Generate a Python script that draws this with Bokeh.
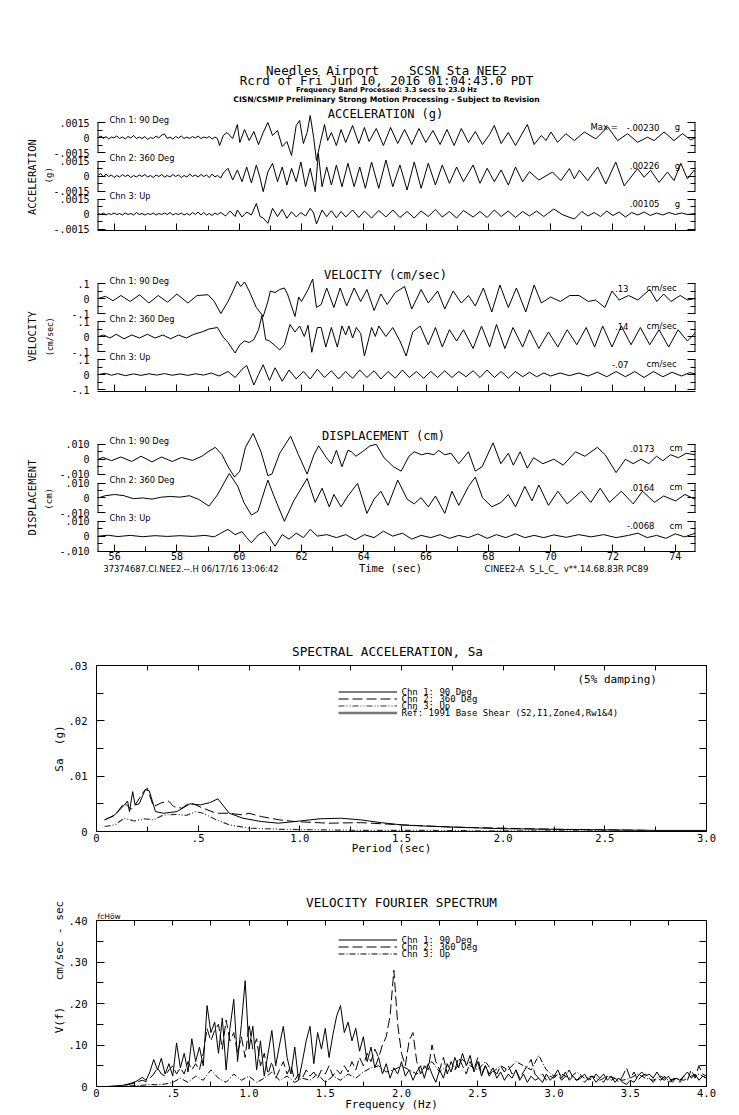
import numpy as np
from bokeh.plotting import figure
from bokeh.models import (Range1d, LinearAxis, FixedTicker, Label, Legend, LegendItem,
                          CustomJSTickFormatter, Title)
from bokeh.layouts import column
from bokeh.embed import file_html
from bokeh.resources import INLINE

MONO = "DejaVu Sans Mono"
SANS = "DejaVu Sans"
NB = "\u00a0"

# ------------------------------------------------------------------ data
CHANNELS = ["Chn 1: 90 Deg", "Chn 2: 360 Deg", "Chn 3: Up"]

# acceleration, units of 1e-4 g
pre_t = [55.48, 55.56, 55.64, 55.72, 55.81, 55.90, 55.98, 56.07, 56.16, 56.25,
         56.34, 56.43, 56.52, 56.61, 56.70, 56.79, 56.88, 56.97, 57.06, 57.15,
         57.24, 57.33, 57.42, 57.51, 57.60, 57.69, 57.78, 57.87, 57.96, 58.05,
         58.14, 58.23, 58.32, 58.41, 58.50, 58.59, 58.68, 58.77, 58.86, 58.95,
         59.04, 59.13, 59.22, 59.30]
acc1_t = pre_t + [59.37, 59.49, 59.61, 59.79, 59.94, 60.02, 60.17, 60.32, 60.47, 60.62,
                  60.77, 60.92, 61.07, 61.23, 61.38, 61.53, 61.68, 61.83, 61.94, 62.06,
                  62.18, 62.28, 62.39, 62.48, 62.60, 62.74, 62.84, 62.96, 63.12, 63.27,
                  63.42, 63.64, 63.84, 64.02, 64.17, 64.40, 64.63, 64.86, 65.09, 65.31,
                  65.54, 65.77, 65.99, 66.22, 66.45, 66.67, 66.90, 67.13, 67.36, 67.58,
                  67.81, 68.04, 68.19, 68.41, 68.64, 68.87, 69.05, 69.25, 69.47, 69.70,
                  69.85, 70.01, 70.22, 70.49, 70.76, 71.08, 71.45, 71.83, 72.15, 72.47,
                  72.79, 73.11, 73.32, 73.64, 73.96, 74.23, 74.50, 74.65]
acc1_v = [0, 1.5, -1, 1, -1.5, 0.5, -0.5, 1.5, -1, 0.5,
          -1.5, 1, -0.5, 2, -1, 0.5, -1, 1, -2, 0,
          -1, 1.5, -0.5, 2.5, 3.5, -1, 0.5, -1.5, 1, -0.5,
          1.5, -1, 0.5, -1, 1, -0.5, 1.5, -1, 0.5, -0.5,
          1, -1.5, 0.5, -1,
          -8, 2, 5, -1, 13, -5, 8, -3, 6, -7,
          5, 15, 2, 7, -9, -4, -18, 12, 17, -6,
          5, 22, 0, -23, -6, 13, -3, 5, -8, 8,
          -5, 12, -6, 10, -4, 9, -8, 10, -6, 8,
          -7, 9, -5, 7, -7, 8, -8, 9, -5, 6,
          -7, 3, 12, -6, 5, -8, 2, 13, -7, 2,
          -3, 5.5, -4.8, 3.8, -3.1, 5.5, -1.4, 10.7, -3.1, 3.8,
          -4.8, 0.3, -3.1, 5.5, -3.1, 3.8, -2.4, 0]
acc2_t = pre_t + [59.41, 59.49, 59.64, 59.79, 59.94, 60.09, 60.24, 60.39, 60.55, 60.67,
                  60.77, 60.92, 61.07, 61.23, 61.38, 61.53, 61.68, 61.83, 61.98, 62.13,
                  62.28, 62.44, 62.54, 62.66, 62.81, 62.96, 63.12, 63.30, 63.49, 63.69,
                  63.87, 64.05, 64.25, 64.48, 64.71, 64.93, 65.16, 65.39, 65.62, 65.84,
                  66.07, 66.30, 66.52, 66.75, 66.98, 67.20, 67.51, 67.73, 67.96, 68.19,
                  68.41, 68.64, 68.87, 69.10, 69.32, 69.62,
                  70.06, 70.33, 70.60, 70.76, 70.92, 71.19, 71.51, 71.77, 72.09, 72.36,
                  72.79, 73.00, 73.21, 73.48, 73.75, 73.96, 74.18, 74.39, 74.60, 74.65]
acc2_v = [1, 2.5, -1, 2, -0.5, 1, -1.5, 0.5, -1, 1.5,
          -0.5, 1, -1.5, 0.5, -1, 1, -0.5, 1.5, -1, 0.5,
          -1.5, 1, -0.5, 1.5, -1, 0.5, -1, 1.5, -0.5, 1,
          -1.5, 0.5, -1, 2, -0.5, 1, -1, 1.5, -0.5, 1,
          -1.5, 2, -1, 0.5,
          -2, 3, 7.7, -4, 6, -5.7, 9, -7, 11, -2,
          -15.7, 4, 12.7, -5.7, 9, -9, 7.7, -5.7, 14, -10.7,
          7.7, -15.7, 22.6, -10.7, 9, -9, 11, -10.7, 12.7, -10.7,
          9, -12.3, 14, -12.3, 16, -10.7, 11, -14, 14, -12.3,
          12.7, -9, 11, -7.3, 9, -5.7, 11, -7.3, 7.7, -5.7,
          6, -9, 9, -5.7, 4.3, -4,
          3.9, -4.6, 7.4, -2.9, 5.7, -4.6, 9, -8, 14, -9.8,
          7.4, -1.2, 5.7, -6.4, 3.9, -4.6, 12.6, -2.9, 5.7, 4]
acc3_t = pre_t + [59.41, 59.56, 59.71, 59.87, 59.94, 60.09, 60.24, 60.39, 60.55, 60.67,
                  60.77, 60.92, 61.07, 61.23, 61.38, 61.53, 61.68, 61.83, 61.98, 62.13,
                  62.28, 62.39, 62.48, 62.66, 62.81, 62.96, 63.12, 63.27, 63.42, 63.64,
                  63.84, 64.02, 64.25, 64.48, 64.71, 64.93, 65.16, 65.39, 65.62, 65.84,
                  66.07, 66.30, 66.52, 66.75, 66.98, 67.20, 67.51, 67.73, 67.96, 68.19,
                  68.41, 68.64, 68.87, 69.10, 69.32, 69.55, 69.78, 70.10, 70.40, 70.76,
                  71.00, 71.20, 71.40, 71.60, 71.80, 72.00, 72.20, 72.40, 72.60, 72.80,
                  73.00, 73.20, 73.40, 73.60, 73.80, 74.00, 74.20, 74.40, 74.65]
acc3_v = [0.5, -0.5, 1, -1, 0.5, -0.5, 1, -0.5, 0.5, -1,
          1, -0.5, 0.5, -1, 1.5, -0.5, 0.5, -1, 0.5, -0.5,
          1, -1, 0.5, -0.5, 1, -0.5, 1.5, -1, 0.5, -0.5,
          1, -1, 0.5, -1, 1.5, -0.5, 2, -1, 1.5, -1,
          0.5, -1.5, 1, -0.5,
          1.5, -2, 3, -2.5, 4, -3, 2, -1, 10.5, -2.5,
          -4, -9.3, 5.7, -2.5, 4.7, -4.3, 2.3, -3, 1.5, -2,
          5.7, 1, -10, 4, -2.7, 3.3, -3.7, 2.5, -3, 4,
          -3.5, 3, -4, 3.5, -3, 4, -3.5, 2.5, -4, 3,
          -2.5, 4.5, -3, 2.5, -4, 3.5, -3, 2.5, -3.5, 4,
          -2.5, 3, -3.5, 2.5, -2, 3, -2.5, 5, -1, -5,
          2.5, -2, 1.5, -2.5, 3, -1.5, 2, -3, 1.5, -1,
          2, -1.5, 1, -1, 1.5, -0.5, 1, -0.5, 0.5]

# velocity, cm/sec
vel1_t = [55.48, 55.70, 55.95, 56.20, 56.50, 56.80, 57.10, 57.40, 57.70, 58.00,
          58.35, 58.65, 59.00, 59.20, 59.41, 59.64, 59.80, 59.94, 60.05, 60.17,
          60.32, 60.55, 60.77, 60.92, 61.00, 61.15, 61.30, 61.45, 61.55, 61.79,
          61.91, 62.00, 62.21, 62.36, 62.48, 62.63, 62.81, 63.04, 63.24, 63.45,
          63.69, 63.90, 64.10, 64.33, 64.55, 64.75, 65.01, 65.31, 65.54, 65.84,
          66.07, 66.37, 66.60, 66.87, 67.13, 67.36, 67.58, 67.84, 68.11, 68.37,
          68.64, 68.90, 69.20, 69.47, 69.70, 70.00, 70.31, 70.61, 70.91, 71.21,
          71.44, 71.74, 71.97, 72.20, 72.50, 72.80, 73.18, 73.41, 73.63, 73.86,
          74.16, 74.39, 74.65]
vel1_v = [0, 0.015, -0.015, 0.02, -0.02, 0.025, -0.03, 0.02, -0.025, 0.03,
          -0.03, 0.02, 0.025, -0.02, -0.10, -0.02, 0.05, 0.115, 0.08, 0.11,
          0.05, -0.06, -0.12, -0.02, 0.05, 0.04, 0.06, 0.07, 0.03, -0.12,
          0.01, -0.02, 0.06, 0.13, -0.06, -0.04, 0.07, -0.06, 0.07, -0.05,
          0.07, -0.02, 0.06, -0.08, 0.03, -0.04, 0.04, 0.08, -0.07, 0.06,
          -0.03, 0.05, -0.07, 0.05, -0.03, 0.02, -0.05, 0.07, -0.09, 0.09,
          -0.06, 0.07, -0.09, 0.09, -0.03, 0.01, -0.02, 0.02, 0.02, -0.02,
          -0.01, -0.06, 0.05, -0.01, 0.02, -0.01, 0.06, -0.02, 0.03, -0.02,
          0.02, -0.01, 0]
vel2_t = [55.48, 55.65, 55.85, 56.05, 56.30, 56.55, 56.80, 57.05, 57.30, 57.55,
          57.80, 58.05, 58.30, 58.55, 58.80, 59.03, 59.30, 59.49, 59.64, 59.87,
          60.02, 60.17, 60.32, 60.47, 60.62, 60.73, 60.85, 60.97, 61.12, 61.30,
          61.45, 61.63, 61.79, 61.94, 62.09, 62.21, 62.33, 62.51, 62.63, 62.78,
          62.96, 63.15, 63.30, 63.42, 63.52, 63.64, 63.76, 63.90, 64.02, 64.25,
          64.37, 64.48, 64.71, 64.93, 65.16, 65.36, 65.57, 65.81, 66.07, 66.30,
          66.52, 66.75, 66.98, 67.20, 67.51, 67.78, 68.04, 68.26, 68.53, 68.79,
          69.10, 69.32, 69.62, 69.93, 70.23, 70.53, 70.84, 71.14, 71.41, 71.67,
          71.97, 72.27, 72.58, 72.88, 73.18, 73.48, 73.79, 74.09, 74.39, 74.65]
vel2_v = [0, 0.01, -0.01, 0.015, -0.015, 0.01, -0.01, 0.015, -0.01, 0.01,
          -0.015, 0.01, -0.01, 0.015, 0.03, 0.05, 0.06, -0.005, -0.04, -0.11,
          -0.055, -0.03, -0.04, -0.02, 0.045, 0.14, -0.02, -0.03, -0.055, -0.09,
          -0.055, 0.08, 0.03, 0.07, 0.0, 0.075, -0.105, 0.06, 0.06, -0.07,
          0.06, -0.07, 0.07, 0.01, 0.07, -0.01, 0.06, 0.02, -0.13, 0.06,
          0.0, 0.07, 0.0, 0.06, -0.03, -0.13, 0.03, 0.07, -0.055, 0.06,
          -0.07, 0.045, -0.03, 0.045, -0.08, 0.07, -0.07, 0.08, -0.08, 0.06,
          -0.07, 0.045, -0.08, 0.03, -0.07, 0.045, -0.055, 0.06, -0.07, 0.07,
          -0.07, 0.07, -0.055, 0.06, -0.055, 0.045, -0.07, 0.045, -0.03, 0.025]
vel3_t = [55.48, 55.70, 55.90, 56.10, 56.35, 56.60, 56.85, 57.10, 57.35, 57.60,
          57.85, 58.10, 58.35, 58.60, 58.85, 59.10, 59.35, 59.64, 59.87, 60.09,
          60.24, 60.47, 60.62, 60.77, 60.97, 61.15, 61.38, 61.60, 61.83, 62.06,
          62.28, 62.51, 62.74, 62.96, 63.19, 63.42, 63.64, 63.87, 64.10, 64.33,
          64.55, 64.78, 65.01, 65.24, 65.46, 65.69, 65.92, 66.15, 66.37, 66.60,
          66.83, 67.05, 67.28, 67.51, 67.73, 67.96, 68.19, 68.41, 68.64, 68.87,
          69.10, 69.32, 69.55, 69.78, 70.00, 70.30, 70.60, 70.90, 71.20, 71.50,
          71.80, 72.10, 72.40, 72.70, 73.00, 73.30, 73.60, 73.90, 74.20, 74.45,
          74.65]
vel3_v = [0, 0.008, -0.005, 0.006, -0.008, 0.004, -0.006, 0.005, -0.004, 0.006,
          -0.005, 0.004, -0.006, 0.005, -0.004, 0.01, -0.01, 0.02, -0.02, 0.035,
          0.06, -0.07, 0.0, 0.065, -0.04, 0.045, -0.045, 0.03, -0.03, 0.02,
          -0.03, 0.035, -0.02, 0.025, -0.03, 0.02, -0.025, 0.03, -0.02, 0.025,
          -0.03, 0.02, -0.025, 0.03, -0.02, 0.02, -0.025, 0.02, -0.02, 0.025,
          -0.02, 0.02, -0.015, 0.025, -0.02, 0.03, -0.02, 0.02, -0.025, 0.02,
          -0.015, 0.015, -0.015, 0.01, -0.01, 0.01, -0.008, 0.01, -0.01, 0.015,
          -0.015, 0.02, -0.015, 0.02, -0.02, 0.02, -0.015, 0.015, -0.01, 0.012,
          0.005]

# displacement, units of 1e-3 cm
dis1_t = [55.48, 55.63, 55.90, 56.20, 56.55, 56.85, 57.20, 57.50, 57.85, 58.15,
          58.50, 58.80, 59.00, 59.23, 59.45, 59.64, 59.85, 60.02, 60.20, 60.45,
          60.70, 60.92, 61.05, 61.30, 61.65, 61.90, 62.18, 62.40, 62.55, 62.80,
          62.96, 63.12, 63.30, 63.49, 63.60, 63.75, 63.95, 64.20, 64.40, 64.65,
          64.95, 65.20, 65.45, 65.62, 65.85, 66.05, 66.25, 66.40, 66.60, 66.80,
          67.05, 67.36, 67.58, 67.80, 68.15, 68.40, 68.64, 68.80, 69.02, 69.25,
          69.45, 69.75, 70.10, 70.40, 70.80, 71.10, 71.50, 71.75, 72.10, 72.40,
          72.65, 72.90, 73.15, 73.40, 73.60, 73.85, 74.10, 74.35, 74.65]
dis1_v = [0, 1.2, -1, 1.5, -1.5, 2, -1.8, 1.5, -1.5, 1.2,
          -0.8, 2, 5, 8, 3, -5, -12, -8, 8, 17.3,
          5, -11, -10, 4, 15.5, 3, -10, 3, 9, 1,
          -3, 6, -5, 6, 5, 2, 5, 9, 10, 1,
          -5, -8, 2, 5, 3, 4, 3, 6, 3, 4,
          -3, 5, -8, -5, 11, -3, 4, -4, 5, -6,
          1, -3, 0, -4, 5, 2, 8, 3, -9, 0,
          -3, 0, -3, 2, -1, 3, 1, 4, 3]
dis2_t = [55.48, 55.70, 56.00, 56.30, 56.60, 56.90, 57.20, 57.50, 57.80, 58.10,
          58.40, 58.70, 59.03, 59.30, 59.68, 59.95, 60.15, 60.39, 60.60, 60.92,
          61.10, 61.45, 61.75, 62.18, 62.44, 62.66, 62.89, 63.04, 63.27, 63.49,
          63.80, 64.10, 64.33, 64.55, 64.78, 65.09, 65.39, 65.62, 65.84, 66.07,
          66.30, 66.60, 66.83, 67.05, 67.36, 67.58, 67.81, 68.11, 68.41, 68.64,
          68.87, 69.17, 69.40, 69.62, 69.93, 70.23, 70.53, 70.99, 71.29, 71.59,
          71.89, 72.27, 72.65, 72.95, 73.33, 73.63, 74.01, 74.31, 74.65]
dis2_v = [0, 1.5, 2.3, 1.5, -0.5, 0, -0.8, 0.5, 1, 0.5,
          1.5, -1, -5.5, 2, 16.4, 8, -3, -11.5, -9, 12,
          2, -15.7, -2, 13, -3, 6.5, -6, 2.3, -6, 1.3,
          9.8, -10.4, -0.8, 4.5, -5, 12, -0.8, -4, 0.2, -6,
          1.3, -10.4, 4.5, -5, 7.7, 14, 0.2, -6, -3, 2.3,
          -6, 7.7, -2, 8.7, -5, 4.5, -4, 4.5, -3, 6.5,
          -3, 4.5, -4, 4.5, -3, 1.3, -2, 2.3, -1]
dis3_t = [55.48, 55.80, 56.10, 56.50, 56.90, 57.30, 57.70, 58.10, 58.50, 58.90,
          59.20, 59.41, 59.64, 59.87, 60.09, 60.24, 60.39, 60.62, 60.82, 61.00,
          61.15, 61.38, 61.60, 61.83, 62.06, 62.28, 62.51, 62.81, 63.12, 63.42,
          63.72, 64.02, 64.33, 64.63, 64.93, 65.24, 65.54, 65.84, 66.15, 66.45,
          66.75, 67.05, 67.36, 67.66, 67.96, 68.26, 68.56, 68.87, 69.17, 69.47,
          69.78, 70.10, 70.50, 70.90, 71.30, 71.70, 72.10, 72.50, 72.80, 73.10,
          73.40, 73.70, 74.00, 74.30, 74.65]
dis3_v = [0, 0.6, -0.3, 0.5, -0.4, 0.3, -0.2, 0.3, -0.2, 0.5,
          -0.5, 2, 4.5, 1, 3, -1, -4.5, 1, 3, -2,
          -6.8, 1, -2, 2, -1, 4.5, 0, 1, -1, 1,
          -2.5, 1, -1, 3.3, 0, 2, -2, 0.5, -1, 1,
          -1.5, 0.5, -1, 1.5, -1.5, 1, -1, 1.5, -1, 0.5,
          -1, 0.8, -0.8, 1, -0.5, 1, -1, 0.5, 2, -1,
          0.5, -1.5, 1.5, -0.5, 2]

acc_max = ["-.00230", ".00226", ".00105"]
vel_max = [".13", ".14", "-.07"]
dis_max = [".0173", ".0164", "-.0068"]
time_ticks = [56, 58, 60, 62, 64, 66, 68, 70, 72, 74]
time_minor = [55, 57, 59, 61, 63, 65, 67, 69, 71, 73, 75]

# spectral acceleration (g) vs period (sec)
sa1_T = [0.04, 0.09, 0.137, 0.153, 0.162, 0.178, 0.19, 0.21, 0.24, 0.26,
         0.29, 0.33, 0.395, 0.46, 0.51, 0.556, 0.597, 0.653, 0.72, 0.81,
         0.895, 0.976, 1.10, 1.20, 1.30, 1.40, 1.50, 1.60, 1.75, 2.00,
         2.25, 2.50, 2.75, 3.00]
sa1_v = [0.0021, 0.0030, 0.0048, 0.0055, 0.0036, 0.0072, 0.0048, 0.0050, 0.0076, 0.0073,
         0.0036, 0.0033, 0.0036, 0.0050, 0.0048, 0.0052, 0.0059, 0.0033, 0.0024, 0.0018,
         0.0015, 0.0018, 0.0023, 0.0024, 0.0021, 0.0016, 0.0012, 0.0010, 0.0008, 0.0005,
         0.0004, 0.0003, 0.0002, 0.0002]
sa2_T = [0.04, 0.09, 0.137, 0.17, 0.19, 0.234, 0.25, 0.28, 0.32, 0.355,
         0.38, 0.42, 0.45, 0.476, 0.524, 0.59, 0.65, 0.72, 0.75, 0.81,
         0.90, 0.976, 1.14, 1.30, 1.50, 1.75, 2.00, 2.25, 2.50, 2.72]
sa2_v = [0.0021, 0.0029, 0.0052, 0.0040, 0.0048, 0.0073, 0.0078, 0.0045, 0.0052, 0.0055,
         0.0045, 0.0042, 0.0050, 0.0050, 0.0042, 0.0033, 0.0033, 0.0030, 0.0033, 0.0027,
         0.0021, 0.0018, 0.0015, 0.0016, 0.0012, 0.0008, 0.0006, 0.0004, 0.0003, 0.0002]
sa3_T = [0.04, 0.09, 0.137, 0.186, 0.234, 0.28, 0.33, 0.395, 0.44, 0.49,
         0.524, 0.59, 0.653, 0.75, 0.90, 1.10, 1.30, 1.60, 2.00, 2.40, 2.72]
sa3_v = [0.0009, 0.0012, 0.0024, 0.0019, 0.0023, 0.0021, 0.0030, 0.0031, 0.0029, 0.0036,
         0.0033, 0.0021, 0.0012, 0.0006, 0.0004, 0.0003, 0.0002, 0.0002, 0.0001, 0.0001, 0.0001]
# reference design spectrum: entirely above the .03 g top of the axis (off scale)
ref_T = [0.0, 0.2, 0.4, 0.6, 0.8, 1.0, 1.5, 2.0, 2.5, 3.0]
ref_v = [0.275, 0.275, 0.275, 0.275, 0.186, 0.150, 0.115, 0.095, 0.081, 0.072]
sa_labels = ["Chn 1: 90 Deg", "Chn 2: 360 Deg", "Chn 3: Up",
             "Ref: 1991 Base Shear (S2,I1,Zone4,Rw1&4)"]

# velocity Fourier spectrum, units of 0.01 cm/sec-sec
vfs_step12 = 0.025
vfs1 = [0, 0, 0, 0, 0.1, 0.1, 0.2, 0.3, 0.5, 0.8,
        1.0, 1.6, 2.2, 1.5, 3.5, 6.5, 4.0, 6.8, 3.0, 5.5,
        2.5, 10.5, 4.5, 8.0, 3.5, 11.5, 6.0, 9.5, 5.0, 19.5,
        13.0, 15.5, 8.0, 16.5, 4.0, 14.0, 21.0, 6.0, 15.0, 25.5,
        9.0, 14.5, 4.0, 11.0, 2.5, 8.0, 13.5, 5.0, 10.0, 14.5,
        7.0, 3.0, 9.5, 1.5, 6.0, 11.0, 14.5, 5.5, 13.0, 9.0,
        14.0, 7.0, 12.5, 17.0, 19.5, 13.0, 15.5, 11.0, 14.0, 8.5,
        12.0, 6.0, 9.5, 4.5, 7.0, 3.0, 5.5, 2.0, 4.5, 3.0,
        6.0, 2.5, 4.0, 1.5, 3.5, 5.0, 2.0, 5.5, 3.0, 1.0,
        4.0, 2.0, 5.5, 3.5, 7.0, 4.5, 8.0, 5.0, 7.5, 3.5,
        6.0, 2.5, 5.0, 3.0, 4.5, 2.0, 3.5, 1.5, 3.0, 2.0,
        4.0, 1.5, 3.0, 1.0, 2.5, 1.5, 2.0, 1.0, 3.0, 1.5,
        2.5, 4.0, 2.0, 3.5, 1.5, 2.5, 1.5, 2.0, 3.0, 1.5,
        2.5, 1.0, 2.0, 3.0, 1.5, 2.5, 1.0, 2.0, 1.0, 0.5,
        1.5, 1.0, 2.5, 3.5, 2.5, 3.0, 2.0, 3.5, 2.0, 1.5,
        2.5, 1.0, 2.0, 1.5, 2.5, 3.5, 2.0, 3.0, 1.5, 2.5,
        2.0]
vfs2 = [0, 0, 0, 0, 0, 0.1, 0.2, 0.3, 0.4, 0.6,
        0.8, 1.2, 1.5, 1.2, 2.0, 3.0, 4.5, 3.0, 2.5, 4.0,
        5.0, 3.0, 4.5, 3.0, 6.0, 4.0, 5.5, 4.0, 8.0, 14.0,
        11.0, 13.5, 15.0, 9.0, 16.0, 11.0, 13.0, 8.0, 12.0, 7.0,
        15.0, 9.0, 11.5, 5.0, 8.0, 3.0, 6.0, 2.0, 4.0, 6.0,
        3.0, 5.0, 1.5, 3.0, 2.0, 4.0, 2.5, 3.5, 2.0, 4.0,
        3.0, 5.0, 2.5, 4.0, 3.0, 5.0, 3.5, 6.0, 4.0, 7.0,
        5.0, 8.0, 6.0, 9.0, 7.0, 10.0, 12.0, 17.0, 28.0, 15.0,
        8.0, 5.0, 11.0, 13.0, 6.0, 3.0, 5.0, 4.0, 10.0, 6.0,
        4.0, 7.0, 3.0, 6.0, 4.0, 7.0, 5.0, 3.0, 6.0, 4.0,
        7.0, 3.0, 5.0, 2.5, 4.0, 3.0, 5.0, 3.5, 5.0, 3.0,
        4.0, 2.0, 3.5, 5.0, 6.5, 3.0, 2.0, 3.0, 1.5, 2.5,
        2.0, 3.0, 1.5, 2.5, 4.0, 2.0, 1.5, 2.5, 1.0, 2.0,
        1.5, 3.0, 2.0, 1.0, 2.5, 1.5, 2.0, 1.0, 2.5, 4.5,
        2.0, 3.5, 1.5, 2.5, 3.0, 2.0, 1.0, 2.0, 1.5, 2.5,
        1.0, 1.5, 2.0, 1.0, 2.5, 1.5, 4.0, 2.0, 5.0, 3.0,
        2.5]
vfs_step3 = 0.05
vfs3 = [0, 0, 0, 0, 0.1, 0.2, 0.3, 0.5, 0.4, 0.6,
        1.0, 2.0, 1.0, 2.5, 1.5, 4.0, 2.0, 1.0, 3.0, 1.5,
        2.5, 1.0, 2.0, 3.5, 1.5, 2.5, 1.0, 2.0, 1.5, 3.0,
        1.0, 2.5, 1.5, 3.0, 2.0, 3.5, 4.5, 5.0, 3.5, 4.0,
        5.0, 4.0, 3.0, 4.5, 6.0, 3.5, 5.0, 4.0, 6.5, 5.0,
        4.0, 6.0, 3.5, 5.0, 4.0, 6.0, 5.0, 4.0, 7.5, 4.0,
        2.5, 3.0, 2.0, 3.5, 2.0, 2.5, 1.5, 2.5, 2.0, 1.5,
        2.0, 3.0, 2.0, 1.5, 2.5, 1.5, 2.0, 1.5, 2.5, 3.0,
        2.0]
vfs_labels = ["Chn 1: 90 Deg", "Chn 2: 360 Deg", "Chn 3: Up"]

# ------------------------------------------------------------------ helpers
W = 739
T_START, T_END = 55.45, 74.65
FL, FR = 97, 695


def lookup_fmt(pos, labs):
    return CustomJSTickFormatter(args=dict(pos=list(pos), labs=list(labs)), code="""
        for (let i = 0; i < pos.length; i++) {
            if (Math.abs(pos[i] - tick) <= 1e-9 + 1e-6 * Math.abs(pos[i])) { return labs[i]; }
        }
        return "";
    """)


def blank_fmt():
    return CustomJSTickFormatter(code='return "";')


def lab(p, fl, fb, px, py, text, size, font=MONO, align="left", style="normal", angle=0.0):
    p.add_layout(Label(x=px - fl, y=fb - py, x_units="screen", y_units="screen", text=text,
                       text_font=font, text_font_size=f"{size}px", text_font_style=style,
                       text_align=align, text_baseline="middle", angle=angle,
                       text_color="black"))


def style_axis(ax, tin=8, tminor=4, size="10px", standoff=8, line=True, labels=True):
    ax.major_tick_in = tin
    ax.major_tick_out = 0
    ax.minor_tick_in = tminor
    ax.minor_tick_out = 0
    ax.major_tick_line_color = "black"
    ax.minor_tick_line_color = "black"
    ax.axis_line_color = "black" if line else None
    ax.major_label_text_font = MONO
    ax.major_label_text_color = "black"
    if labels:
        ax.major_label_text_font_size = size
        ax.major_label_standoff = standoff
    else:
        ax.formatter = blank_fmt()
        ax.major_label_text_font_size = "0px"
        ax.major_label_text_color = None
        ax.major_label_standoff = 0


def axis_title(ax, text, size, standoff):
    ax.axis_label = text
    ax.axis_label_text_font = MONO
    ax.axis_label_text_font_size = f"{size}px"
    ax.axis_label_text_font_style = "normal"
    ax.axis_label_text_color = "black"
    ax.axis_label_standoff = standoff


def seis_fig(top, height, ftop, fbot, zeros, half, lim, traces, unit, tick_top, tick_bot,
             show_xlabels, unit_label, unit_size, unit_standoff, group_label, group_standoff):
    p = figure(width=W, height=height, output_backend="svg", toolbar_location=None, title=None,
               x_range=Range1d(T_START, T_END), y_range=Range1d(fbot, ftop),
               min_border_left=FL, min_border_right=W - FR,
               min_border_top=ftop - top, min_border_bottom=top + height - fbot)
    p.outline_line_color = None
    p.xgrid.visible = False
    p.ygrid.visible = False
    majors, labs, minors = [], [], []
    k = half / lim
    for i, (z, (tt, vv)) in enumerate(zip(zeros, traces)):
        name = f"tr{i}"
        p.extra_y_ranges[name] = Range1d(-(fbot - z) / k, (z - ftop) / k)
        p.line(tt, np.array(vv, dtype=float) * unit, y_range_name=name,
               line_color="black", line_width=1)
        p.segment(x0=[T_START, T_END], y0=[-lim, -lim], x1=[T_START, T_END], y1=[lim, lim],
                  y_range_name=name, line_color="black", line_width=2)
        majors += [z - half, z, z + half]
        labs += [tick_top, "0", tick_bot]
        minors += [z - half / 2, z + half / 2]
    yt = FixedTicker(ticks=majors, minor_ticks=minors)
    ya = p.yaxis[0]
    ya.ticker = yt
    ya.formatter = lookup_fmt(majors, labs)
    style_axis(ya, tin=8, tminor=5, size="10px", standoff=8, line=False)
    axis_title(ya, unit_label, unit_size, unit_standoff)
    ga = LinearAxis(ticker=FixedTicker(ticks=[]))
    style_axis(ga, tin=0, tminor=0, line=False, labels=False)
    axis_title(ga, group_label, 10.5, group_standoff)
    p.add_layout(ga, "left")
    ra = LinearAxis(ticker=yt)
    style_axis(ra, tin=8, tminor=5, line=False, labels=False)
    p.add_layout(ra, "right")
    xa = p.xaxis[0]
    xa.ticker = FixedTicker(ticks=time_ticks, minor_ticks=time_minor)
    style_axis(xa, tin=7, tminor=5, size="10px", standoff=0, line=True, labels=show_xlabels)
    return p


def add_trace_texts(p, fb, zeros, half, maxvals, val_right, unit_text, unit_x, unit_align,
                    with_max=False):
    for i, z in enumerate(zeros):
        box_top = z - half
        lab(p, FL, fb, 109, box_top - 3, CHANNELS[i], 8.3, font=SANS)
        lab(p, FL, fb, val_right, box_top + 4.5, maxvals[i], 8.5, font=SANS, align="right")
        lab(p, FL, fb, unit_x, box_top + 4.5, unit_text, 8.5, font=SANS, align=unit_align)
        if with_max and i == 0:
            lab(p, FL, fb, 590, box_top + 4.5, "Max =", 8.5, font=SANS)


def text_strip(height, fl, fr):
    p = figure(width=W, height=height, output_backend="svg", toolbar_location=None, title=None,
               x_range=Range1d(fl, fr), y_range=Range1d(height, 0),
               min_border_left=fl, min_border_right=W - fr, min_border_top=0,
               min_border_bottom=0, x_axis_type=None, y_axis_type=None)
    p.outline_line_color = None
    p.grid.visible = False
    return p


def slab(p, top, px, py, text, size, font=MONO, align="left", style="normal"):
    p.add_layout(Label(x=px, y=py - top, text=text, text_font=font,
                       text_font_size=f"{size}px", text_font_style=style, text_align=align,
                       text_baseline="middle", text_color="black"))


# ------------------------------------------------------------------ acceleration
A_top, A_h, A_ft, A_fb = 0, 250, 60, 230
A_z = [137, 175.5, 213.5]
pA = seis_fig(A_top, A_h, A_ft, A_fb, A_z, 15, 0.0015,
              [(acc1_t, acc1_v), (acc2_t, acc2_v), (acc3_t, acc3_v)], 1e-4,
              ".0015", "-.0015", False, "(g)" + NB * 11, 9, -4,
              "ACCELERATION" + NB * 10, 4)
lab(pA, FL, A_fb, 386, 70, "Needles Airport" + NB * 4 + "SCSN Sta NEE2", 12.5, align="center")
lab(pA, FL, A_fb, 386, 80, "Rcrd of Fri Jun 10, 2016 01:04:43.0 PDT", 12.5, align="center")
lab(pA, FL, A_fb, 386, 89.5, "Frequency Band Processed: 3.3 secs to 23.0 Hz", 6.8, font=SANS,
    align="center", style="bold")
lab(pA, FL, A_fb, 386, 98.5,
    "CISN/CSMIP Preliminary Strong Motion Processing - Subject to Revision", 7.6, font=SANS,
    align="center", style="bold")
lab(pA, FL, A_fb, 385, 113, "ACCELERATION (g)", 12, align="center")
add_trace_texts(pA, A_fb, A_z, 15, acc_max, 659, "g", 677, "center", with_max=True)

# ------------------------------------------------------------------ velocity
B_top, B_h, B_ft, B_fb = 250, 162, 262, 391
B_z = [298, 336, 374]
pB = seis_fig(B_top, B_h, B_ft, B_fb, B_z, 15, 0.1,
              [(vel1_t, vel1_v), (vel2_t, vel2_v), (vel3_t, vel3_v)], 1.0,
              ".1", "-.1", False, "(cm/sec)" + NB * 4, 8, 13, "VELOCITY" + NB * 3, 6)
lab(pB, FL, B_fb, 385, 274, "VELOCITY (cm/sec)", 12, align="center")
add_trace_texts(pB, B_fb, B_z, 15, vel_max, 628, "cm/sec", 646, "left")

# ------------------------------------------------------------------ displacement
C_top, C_h, C_ft, C_fb = 412, 150, 424, 552
C_z = [459, 498, 536.5]
pC = seis_fig(C_top, C_h, C_ft, C_fb, C_z, 15, 0.010,
              [(dis1_t, dis1_v), (dis2_t, dis2_v), (dis3_t, dis3_v)], 1e-3,
              ".010", "-.010", True, "(cm)" + NB * 4, 9, 2, "DISPLACEMENT" + NB * 3, 4)
lab(pC, FL, C_fb, 383, 436, "DISPLACEMENT (cm)", 12, align="center")
add_trace_texts(pC, C_fb, C_z, 15, dis_max, 654, "cm", 669, "left")

# ------------------------------------------------------------------ strip between
S1_top, S1_h = 562, 98
s1 = text_strip(S1_h, FL, FR)
slab(s1, S1_top, 390, 567, "Time (sec)", 10.5, align="center")
slab(s1, S1_top, 103, 568, "37374687.CI.NEE2.--.H 06/17/16 13:06:42", 8.3, font=SANS)
slab(s1, S1_top, 484, 568, "CINEE2-A" + NB * 2 + "S_L_C_" + NB * 2 + "v**.14.68.83R PC89",
     8.5, font=SANS)
slab(s1, S1_top, 387, 651, "SPECTRAL ACCELERATION, Sa", 12.7, align="center")


# ------------------------------------------------------------------ spectra helpers
def spec_fig(height, mtop, mbot, fl, fr, xr, yr, xt, xminor, xlabs, yt, yminor, ylabs,
             xtitle, xtitle_standoff, ytitle):
    p = figure(width=W, height=height, output_backend="svg", toolbar_location=None, title=None,
               x_range=Range1d(*xr), y_range=Range1d(*yr),
               min_border_left=fl, min_border_right=W - fr,
               min_border_top=mtop, min_border_bottom=mbot)
    p.outline_line_color = None
    p.xgrid.visible = False
    p.ygrid.visible = False
    xtk = FixedTicker(ticks=xt, minor_ticks=xminor)
    ytk = FixedTicker(ticks=yt, minor_ticks=yminor)
    xa = p.xaxis[0]
    xa.ticker = xtk
    xa.formatter = lookup_fmt(xt, xlabs)
    style_axis(xa, tin=6, tminor=5, size="10.5px", standoff=2)
    axis_title(xa, xtitle, 11, xtitle_standoff)
    ya = p.yaxis[0]
    ya.ticker = ytk
    ya.formatter = lookup_fmt(yt, ylabs)
    style_axis(ya, tin=8, tminor=7, size="10.5px", standoff=9)
    axis_title(ya, ytitle, 11, 0)
    ta = LinearAxis(ticker=xtk)
    style_axis(ta, tin=5, tminor=5, labels=False)
    p.add_layout(ta, "above")
    ra = LinearAxis(ticker=ytk)
    style_axis(ra, tin=8, tminor=7, labels=False)
    p.add_layout(ra, "right")
    return p


def legend_block(p, renderers, fl, fb, rows_y, x0):
    items = [LegendItem(label=" ", renderers=[r]) for r in renderers]
    row_h = rows_y[1] - rows_y[0]
    bottom = rows_y[-1] + row_h / 2
    leg = Legend(items=items, location=(x0 - fl, fb - bottom), orientation="vertical",
                 padding=0, margin=0, spacing=0, glyph_width=59, glyph_height=int(row_h),
                 label_height=int(row_h), label_width=1, label_standoff=0,
                 label_text_font_size="1px", border_line_color=None,
                 background_fill_alpha=0)
    p.add_layout(leg)


# ------------------------------------------------------------------ spectral acceleration
D_top, D_h, D_ft, D_fb = 660, 198, 665, 831
D_fl, D_fr = 96, 707
pD = spec_fig(D_h, D_ft - D_top, D_top + D_h - D_fb, D_fl, D_fr, (0, 3.0), (0, 0.03),
              [0, 0.5, 1.0, 1.5, 2.0, 2.5, 3.0], [0.25, 0.75, 1.25, 1.75, 2.25, 2.75],
              ["0", ".5", "1.0", "1.5", "2.0", "2.5", "3.0"],
              [0, 0.01, 0.02, 0.03], [0.005, 0.015, 0.025], ["0", ".01", ".02", ".03"],
              "Period (sec)" + NB * 3, -3, "Sa" + NB * 2 + "(g)")
r1 = pD.line(sa1_T, sa1_v, line_color="black", line_width=1)
r2 = pD.line(sa2_T, sa2_v, line_color="black", line_width=1, line_dash="10 4")
r3 = pD.line(sa3_T, sa3_v, line_color="#333333", line_width=1.2, line_dash="6 2 1 2 1 2")
r4 = pD.line(ref_T, ref_v, line_color="#777777", line_width=2.5)
sa_rows = [691, 698, 705, 712]
legend_block(pD, [r1, r2, r3, r4], D_fl, D_fb, sa_rows, 338)
for yy, tx in zip(sa_rows, sa_labels):
    lab(pD, D_fl, D_fb, 401, yy, tx, 9)
lab(pD, D_fl, D_fb, 577, 679, "(5% damping)", 11)

# ------------------------------------------------------------------ velocity Fourier spectrum
E_top, E_h, E_ft, E_fb = 858, 257, 920, 1086
E_fl, E_fr = 96, 706
pE = spec_fig(E_h, E_ft - E_top, E_top + E_h - E_fb, E_fl, E_fr, (0, 4.0), (0, 0.40),
              [0, 0.5, 1.0, 1.5, 2.0, 2.5, 3.0, 3.5, 4.0],
              [0.25, 0.75, 1.25, 1.75, 2.25, 2.75, 3.25, 3.75],
              ["0", ".5", "1.0", "1.5", "2.0", "2.5", "3.0", "3.5", "4.0"],
              [0, 0.10, 0.20, 0.30, 0.40], [0.05, 0.15, 0.25, 0.35],
              ["0", ".10", ".20", ".30", ".40"],
              "Frequency (Hz)" + NB * 3, -2, NB * 11 + "V(f)" + NB * 4 + "cm/sec - sec")
pE.add_layout(Title(text="fcH\u00f6w", align="left", offset=1, text_font=SANS,
                    text_font_size="7.5px", text_font_style="normal", standoff=0,
                    text_color="black"), "above")
pE.add_layout(Title(text="VELOCITY FOURIER SPECTRUM", align="center", offset=-14,
                    text_font=MONO, text_font_size="12.7px", text_font_style="normal",
                    standoff=0, text_color="black"), "above")
f12 = np.arange(len(vfs1)) * vfs_step12
f3 = np.arange(len(vfs3)) * vfs_step3
e1 = pE.line(f12, np.array(vfs1) * 0.01, line_color="black", line_width=1)
e2 = pE.line(f12, np.array(vfs2) * 0.01, line_color="black", line_width=1, line_dash="10 4")
e3 = pE.line(f3, np.array(vfs3) * 0.01, line_color="black", line_width=1, line_dash="6 2 1 2")
vfs_rows = [939, 946, 953]
legend_block(pE, [e1, e2, e3], E_fl, E_fb, vfs_rows, 338)
for yy, tx in zip(vfs_rows, vfs_labels):
    lab(pE, E_fl, E_fb, 401, yy, tx, 9)

layout = column(column(pA, pB, pC, s1), column(pD, pE))
open("out.html", "w").write(file_html(layout, INLINE, "Needles Airport"))
